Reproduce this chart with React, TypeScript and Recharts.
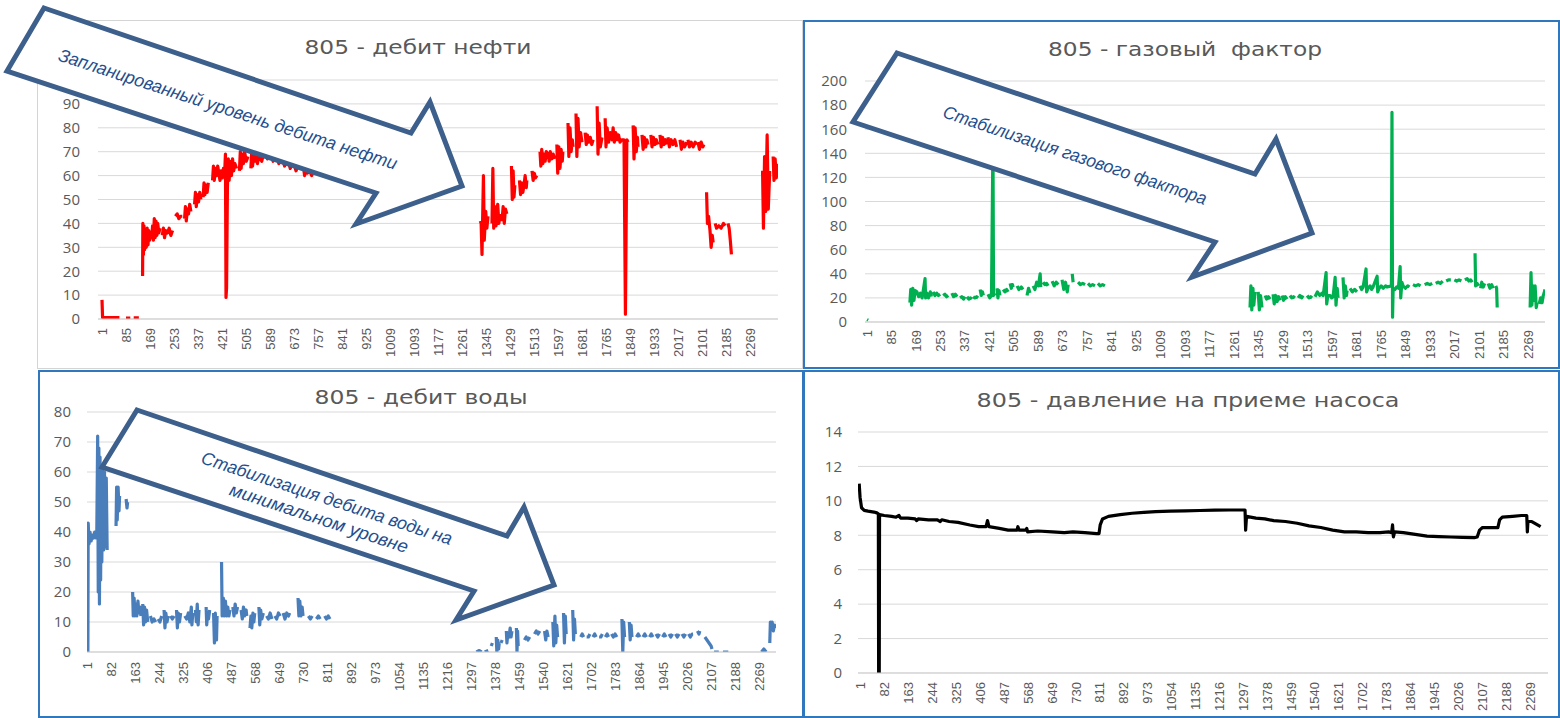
import React from "react";
import { LineChart, Line, XAxis, YAxis, CartesianGrid } from "recharts";

type P = [number, number | null];

// ---------- tick labels ----------
const ticksTop = [1, 85, 169, 253, 337, 421, 505, 589, 673, 757, 841, 925, 1009, 1093, 1177, 1261, 1345, 1429, 1513, 1597, 1681, 1765, 1849, 1933, 2017, 2101, 2185, 2269];
const ticksBottom = [1, 82, 163, 244, 325, 406, 487, 568, 649, 730, 811, 892, 973, 1054, 1135, 1216, 1297, 1378, 1459, 1540, 1621, 1702, 1783, 1864, 1945, 2026, 2107, 2188, 2269];
const oilTicks = [0, 10, 20, 30, 40, 50, 60, 70, 80, 90, 100];
const gasTicks = [0, 20, 40, 60, 80, 100, 120, 140, 160, 180, 200];
const waterTicks = [0, 10, 20, 30, 40, 50, 60, 70, 80];
const pressTicks = [0, 2, 4, 6, 8, 10, 12, 14];

// ---------- titles / annotations ----------
const titleOil = "805 - дебит нефти";
const titleGas = "805 - газовый  фактор";
const titleWater = "805 - дебит воды";
const titlePress = "805 - давление на приеме насоса";
const noteOil = "Запланированный уровень дебита нефти";
const noteGas = "Стабилизация газового фактора";
const noteWater1 = "Стабилизация дебита воды на";
const noteWater2 = "минимальном уровне";

// ---------- series: [day, value] ----------
const oilRate: P[] = [
  [1, 8], [3, 0.6], [62, 0.6], [63, null], [85, 0.4], [100, 0.4], [101, null], [112, 0.5], [130, 0.5], [131, null],
  [143, 18], [144, 40], [146, 27], [148, 39], [150, 29], [153, 37], [156, 30], [159, 38], [162, 31], [165, 37], [168, 33], [171, 36],
  [175, 34], [178, 39], [181, 33], [184, 42], [187, 34], [190, 41], [193, 35], [196, 40], [200, 36], [204, 38], [205, null],
  [212, 35], [216, 38], [220, 34], [224, 37], [230, 36], [236, 38], [242, 35], [248, 37], [249, null],
  [258, 43], [264, 44], [270, 42], [276, 43], [282, 43], [283, null],
  [290, 42], [293, 47], [296, 41], [300, 46], [304, 44], [308, 48], [312, 45], [313, null],
  [325, 48], [328, 53], [331, 47], [335, 52], [339, 49], [343, 53], [347, 50], [348, null],
  [355, 51], [358, 57], [361, 52], [365, 56], [369, 53], [373, 57], [374, null],
  [388, 58], [391, 64], [394, 58], [398, 63], [402, 60], [406, 64], [410, 61], [414, 58], [418, 62], [422, 59], [426, 63], [430, 60],
  [433, 69], [435, 9], [437, 13], [440, 55], [443, 67], [446, 58], [450, 66], [454, 60], [458, 67], [462, 62], [466, 65], [472, 63], [473, null],
  [482, 62], [485, 70], [488, 63], [492, 69], [496, 65], [500, 70], [506, 66], [512, 68], [513, null],
  [522, 63], [525, 70], [528, 64], [532, 69], [536, 66], [540, 70], [545, 65], [550, 68],
  [560, 66], [570, 71], [580, 67], [590, 70], [600, 66], [610, 69], [620, 65], [630, 68], [640, 64], [650, 67], [660, 63], [670, 66],
  [680, 62], [690, 65], [700, 63], [705, 65], [710, 60], [715, 64], [720, 61], [728, 62], [735, 60], [742, 63], [750, 61], [758, 62], [765, 61], [766, null],
  [1325, 41], [1328, 40], [1331, 27], [1336, 60], [1339, 33], [1344, 45], [1348, 38], [1352, 43], [1353, null],
  [1366, 40], [1369, 63], [1372, 38], [1376, 47], [1380, 39], [1386, 48], [1390, 40], [1394, 44], [1395, null],
  [1401, 41], [1405, 47], [1409, 40], [1413, 46], [1418, 44], [1419, null],
  [1434, 64], [1437, 50], [1440, 62], [1443, 51], [1446, 56], [1447, null],
  [1462, 58], [1466, 52], [1470, 57], [1474, 53], [1478, 56], [1482, 60], [1486, 55], [1488, 58], [1489, null],
  [1506, 62], [1510, 58], [1514, 61], [1518, 59], [1523, 60], [1524, null],
  [1534, 70], [1537, 64], [1540, 71], [1544, 65], [1548, 69], [1552, 66], [1556, 70], [1558, 67], [1559, null],
  [1562, 70], [1566, 66], [1570, 70], [1575, 67], [1580, 69], [1586, 67], [1587, null],
  [1593, 73], [1596, 61], [1600, 72], [1604, 63], [1608, 71], [1612, 66], [1614, 70], [1615, null],
  [1632, 82], [1635, 68], [1639, 80], [1643, 70], [1647, 75], [1650, 72], [1651, null],
  [1660, 86], [1663, 68], [1667, 84], [1671, 72], [1676, 78], [1681, 74], [1682, null],
  [1692, 78], [1696, 73], [1700, 77], [1705, 74], [1710, 76], [1715, 73], [1720, 75], [1721, null],
  [1734, 89], [1737, 69], [1741, 82], [1745, 72], [1751, 76], [1752, null],
  [1762, 84], [1765, 72], [1769, 80], [1774, 74], [1780, 78], [1786, 75],
  [1790, 80], [1794, 74], [1799, 78], [1804, 75], [1809, 77], [1814, 74], [1820, 75], [1828, 75], [1833, 2], [1838, 75], [1842, 74], [1843, null],
  [1860, 81], [1863, 67], [1867, 80], [1871, 70], [1875, 76], [1877, 72], [1878, null],
  [1891, 77], [1895, 71], [1899, 76], [1904, 72], [1908, 75], [1912, 73], [1913, null],
  [1922, 77], [1926, 72], [1931, 76], [1936, 73], [1941, 75], [1947, 73], [1948, null],
  [1954, 77], [1958, 72], [1963, 76], [1968, 73], [1973, 75], [1978, 73], [1979, null],
  [1982, 76], [1987, 72], [1993, 75], [1999, 73], [2006, 75], [2012, 72], [2013, null],
  [2024, 75], [2029, 71], [2034, 74], [2040, 72], [2048, 74], [2049, null],
  [2052, 75], [2057, 72], [2063, 74], [2070, 72], [2077, 74], [2083, 73], [2084, null],
  [2087, 74], [2092, 71], [2098, 74], [2104, 72], [2108, 73], [2109, null],
  [2117, 53], [2120, 40], [2124, 43], [2129, 37], [2133, 30], [2137, 35], [2140, 32], [2141, null],
  [2147, 40], [2152, 38], [2160, 39], [2168, 38], [2176, 40], [2182, 39], [2183, null],
  [2192, 40], [2196, 38], [2200, 33], [2204, 27], [2205, null],
  [2313, 62], [2316, 38], [2320, 68], [2324, 45], [2329, 77], [2333, 46], [2338, 62], [2342, null],
  [2350, 68], [2353, 58], [2357, 67], [2361, 59], [2364, 65],
];

const gasFactor: P[] = [
  [1, 2], [5, 1.5], [6, null],
  [148, 16], [151, 27], [154, 14], [158, 28], [162, 18], [166, 26], [172, 25], [178, 21], [184, 24], [190, 20],
  [200, 36], [202, 20], [206, 24], [212, 20], [218, 25], [222, 21], [223, null],
  [228, 25], [234, 22], [240, 24], [246, 22], [252, 23], [253, null],
  [262, 22], [268, 23], [274, 21], [280, 22], [281, null],
  [292, 24], [298, 21], [304, 23], [310, 21], [311, null],
  [320, 20], [326, 21], [332, 19], [337, 21], [338, null],
  [344, 21], [350, 19], [356, 20], [361, 19], [362, null],
  [365, 21], [371, 20], [377, 21], [382, 20], [383, null],
  [389, 27], [393, 22], [397, 25], [400, 22], [401, null],
  [416, 23], [422, 20], [428, 22], [433, 150], [435, 22], [440, 24], [442, null],
  [447, 28], [450, 20], [454, 26], [457, 22], [458, null],
  [468, 27], [474, 25], [480, 27], [485, 25], [486, null],
  [492, 32], [496, 28], [500, 31], [502, 29], [503, null],
  [516, 30], [522, 27], [530, 29], [536, 27], [537, null],
  [550, 22], [555, 28], [560, 24], [561, null],
  [571, 30], [577, 27], [583, 33], [589, 30], [595, 40], [597, 29], [598, null],
  [605, 33], [611, 31], [617, 32], [622, 30], [623, null],
  [636, 34], [643, 30], [650, 33], [657, 31], [658, null],
  [670, 35], [676, 27], [682, 33], [688, 25], [691, 31], [692, null],
  [705, 40], [708, 33], [709, null],
  [725, 33], [733, 31], [741, 32], [749, 31], [750, null],
  [759, 32], [767, 30], [775, 31], [783, 30], [784, null],
  [793, 32], [801, 30], [809, 31], [817, 30], [818, null],
  [1315, 12], [1318, 30], [1321, 10], [1325, 28], [1328, 14], [1332, 25], [1333, null],
  [1343, 25], [1347, 10], [1351, 22], [1356, 12], [1357, null],
  [1367, 22], [1372, 19], [1378, 21], [1384, 19], [1385, null],
  [1394, 23], [1398, 15], [1403, 22], [1408, 17], [1413, 21], [1418, 18], [1419, null],
  [1425, 22], [1430, 18], [1436, 21], [1442, 19], [1443, null],
  [1452, 22], [1458, 20], [1464, 21], [1469, 20], [1470, null],
  [1480, 20], [1486, 22], [1492, 20], [1497, 22], [1498, null],
  [1511, 22], [1517, 20], [1523, 21], [1528, 20], [1529, null],
  [1538, 21], [1546, 25], [1554, 22], [1562, 24], [1566, 22],
  [1576, 41], [1578, 15], [1582, 22], [1590, 22], [1595, 20], [1600, 21],
  [1607, 37], [1610, 14], [1614, 28], [1617, 20], [1618, null],
  [1634, 37], [1638, 20], [1642, 30], [1646, 22], [1648, 26], [1649, null],
  [1658, 28], [1666, 25], [1674, 27], [1682, 25], [1683, null],
  [1692, 30], [1698, 27], [1703, 29], [1713, 44], [1715, 25], [1720, 28], [1727, 30], [1732, 27], [1737, 29],
  [1751, 38], [1753, 25], [1758, 28], [1765, 30], [1772, 28], [1780, 30], [1785, 29],
  [1800, 30], [1802, 174], [1804, 4], [1806, 28], [1812, 27], [1818, 29], [1824, 28],
  [1830, 46], [1832, 20], [1836, 33], [1840, 30], [1848, 28], [1856, 30], [1862, 29], [1863, null],
  [1874, 31], [1883, 30], [1892, 31], [1900, 30], [1901, null],
  [1914, 31], [1923, 32], [1932, 31], [1940, 32], [1941, null],
  [1952, 32], [1960, 33], [1968, 32], [1976, 34], [1977, null],
  [1988, 34], [1996, 35], [2004, 35], [2005, null],
  [2016, 35], [2024, 34], [2032, 35], [2040, 34], [2041, null],
  [2052, 35], [2060, 36], [2066, 34], [2072, 35], [2077, 33], [2078, null],
  [2087, 57], [2089, 30], [2094, 32], [2099, 30], [2100, null],
  [2106, 28], [2110, 33], [2115, 29], [2120, 32], [2121, null],
  [2132, 32], [2138, 28], [2144, 31], [2149, 28], [2150, null],
  [2158, 30], [2161, 28], [2163, 12], [2164, null],
  [2276, 12], [2279, 41], [2282, 14], [2286, 30], [2290, 18], [2293, 30], [2297, 12], [2300, 16], [2301, null],
  [2307, 15], [2312, 20], [2317, 16], [2321, 22], [2324, 24], [2327, 27],
];

const waterRate: P[] = [
  [1, 0], [2, 43], [5, 36], [8, 40], [12, 37], [16, 39], [20, 38], [24, 40], [28, 38], [31, 39],
  [34, 72], [36, 20], [38, 68], [40, 16], [42, 65], [44, 24], [46, 60], [48, 30], [51, 62], [54, 34], [57, 60], [60, 35], [63, 58], [66, 34], [67, null],
  [96, 42], [98, 55], [100, 44], [103, 55], [106, 47], [108, 52], [109, null],
  [130, 51], [133, 48], [135, 50], [136, null],
  [152, 20], [154, 12], [157, 18], [160, 12], [163, 16], [166, 12], [170, 17], [173, 13], [177, 15], [180, 12], [181, null],
  [186, 16], [189, 9], [192, 15], [196, 10], [199, 14], [203, 10], [204, null],
  [212, 12], [218, 10], [224, 11], [230, 10], [231, null],
  [238, 11], [244, 10], [250, 12], [251, null],
  [258, 14], [261, 8], [264, 13], [268, 10], [272, 12], [273, null],
  [280, 12], [286, 11], [292, 12], [293, null],
  [300, 14], [303, 8], [306, 13], [310, 10], [314, 13], [315, null],
  [328, 12], [334, 11], [340, 13], [345, 10], [350, 15], [352, 9], [355, 13], [356, null],
  [364, 14], [367, 10], [370, 16], [373, 9], [376, 14], [377, null],
  [400, 15], [402, 9], [405, 13], [408, 11], [412, 14], [413, null],
  [425, 13], [428, 3], [431, 13], [435, 4], [437, 12], [438, null],
  [452, 30], [454, 12], [458, 18], [461, 12], [465, 17], [469, 12], [473, 15], [477, 12], [480, 14], [481, null],
  [490, 15], [494, 12], [498, 16], [502, 13], [506, 15], [507, null],
  [518, 14], [522, 11], [526, 15], [530, 12], [535, 14], [537, 12], [538, null],
  [548, 8], [551, 12], [554, 8], [558, 13], [561, 10], [564, 13], [565, null],
  [578, 15], [581, 9], [584, 14], [588, 11], [593, 13], [594, null],
  [604, 12], [610, 11], [616, 13], [622, 11], [623, null],
  [632, 12], [638, 11], [644, 13], [650, 12], [651, null],
  [660, 13], [666, 11], [672, 13], [678, 12], [682, 13], [683, null],
  [710, 18], [713, 12], [716, 17], [720, 12], [724, 15], [727, 12], [728, null],
  [745, 12], [752, 11], [758, 12], [759, null],
  [772, 11], [779, 12], [785, 11], [786, null],
  [800, 12], [806, 11], [812, 12], [818, 11], [819, null],
  [1312, 0], [1322, 0.5], [1330, 0], [1331, null], [1340, 0], [1352, 0.5], [1353, null],
  [1362, 2], [1366, 3], [1367, null],
  [1379, 5], [1381, 0], [1384, 4], [1387, 1], [1389, 3], [1390, null],
  [1395, 3], [1399, 4], [1400, null],
  [1413, 7], [1415, 3], [1418, 6], [1422, 5], [1426, 8], [1429, 5], [1432, 7], [1433, null],
  [1447, 8], [1449, 0], [1451, 7], [1453, 2], [1454, null],
  [1474, 4], [1480, 5], [1486, 4], [1492, 5], [1493, null],
  [1508, 6], [1514, 7], [1520, 6], [1526, 7], [1527, null],
  [1542, 7], [1546, 4], [1550, 7], [1554, 5], [1555, null],
  [1570, 10], [1573, 2], [1577, 12], [1580, 3], [1583, 9], [1586, 5], [1587, null],
  [1606, 13], [1609, 3], [1612, 12], [1615, 6], [1616, null],
  [1637, 14], [1640, 4], [1643, 11], [1646, 6], [1647, null],
  [1664, 5], [1669, 6], [1674, 5], [1675, null],
  [1684, 5], [1690, 5], [1695, 6], [1696, null],
  [1705, 5], [1711, 6], [1716, 5], [1717, null],
  [1726, 5], [1732, 5], [1737, 6], [1738, null],
  [1747, 5], [1753, 6], [1758, 5], [1759, null],
  [1768, 6], [1774, 5], [1780, 6], [1786, 5], [1787, null],
  [1803, 11], [1806, 0], [1809, 10], [1812, 5], [1813, null],
  [1828, 10], [1831, 4], [1834, 9], [1837, 5], [1838, null],
  [1852, 5], [1858, 6], [1864, 5], [1865, null],
  [1874, 5], [1880, 6], [1886, 5], [1887, null],
  [1896, 5], [1902, 6], [1908, 5], [1909, null],
  [1918, 6], [1924, 5], [1930, 6], [1931, null],
  [1940, 5], [1946, 6], [1952, 5], [1953, null],
  [1962, 6], [1968, 5], [1974, 6], [1975, null],
  [1984, 6], [1990, 5], [1996, 6], [1997, null],
  [2006, 6], [2012, 5], [2018, 6], [2019, null],
  [2028, 6], [2034, 5], [2040, 6], [2043, 6], [2044, null],
  [2058, 7], [2063, 6], [2066, 7], [2067, null],
  [2083, 5], [2090, 4], [2097, 3], [2104, 2], [2107, 1], [2108, null],
  [2114, 0], [2124, 0], [2130, 0], [2131, null], [2144, 0], [2154, 0], [2162, 0], [2163, null],
  [2274, 0], [2282, 1], [2290, 0], [2291, null],
  [2302, 3], [2304, 10], [2307, 8], [2310, 10], [2314, 7], [2318, 9], [2322, 8],
];

const pumpPressure: P[] = [
  [-5, 11], [-2, 10.2], [3, 9.6], [12, 9.45], [25, 9.4], [45, 9.35], [55, 9.3], [60, 9.25], [61, 0], [63, 0], [64, 9.2], [80, 9.15],
  [105, 9.1], [120, 9.05], [130, 9.15], [135, 9.0], [160, 9.0], [185, 8.95], [190, 8.85], [195, 8.95], [230, 8.9], [260, 8.9],
  [270, 8.8], [275, 8.9], [300, 8.8], [330, 8.75], [370, 8.6], [400, 8.5], [425, 8.5], [430, 8.85], [435, 8.5],
  [470, 8.4], [500, 8.3], [530, 8.3], [533, 8.5], [537, 8.3], [560, 8.3], [563, 8.4], [566, 8.2], [600, 8.25],
  [650, 8.2], [690, 8.15], [720, 8.2], [760, 8.15], [800, 8.1], [808, 8.1], [812, 8.6], [820, 8.95], [840, 9.1],
  [880, 9.2], [920, 9.28], [960, 9.33], [1000, 9.38], [1050, 9.4], [1100, 9.42], [1150, 9.44], [1200, 9.46],
  [1250, 9.47], [1300, 9.47], [1303, 9.47], [1305, 8.3], [1308, 9.1], [1340, 9.0], [1370, 8.95], [1400, 8.85],
  [1440, 8.8], [1480, 8.7], [1520, 8.55], [1560, 8.45], [1600, 8.3], [1640, 8.2], [1680, 8.2], [1720, 8.15],
  [1760, 8.15], [1790, 8.2], [1800, 8.15], [1803, 8.6], [1806, 7.9], [1810, 8.2], [1840, 8.15], [1880, 8.05],
  [1920, 7.95], [1960, 7.92], [2000, 7.9], [2040, 7.88], [2080, 7.86], [2090, 7.9], [2098, 8.3], [2108, 8.45],
  [2140, 8.45], [2160, 8.45], [2166, 8.9], [2175, 9.05], [2210, 9.1], [2240, 9.15], [2258, 9.15], [2260, 8.2],
  [2262, 8.8], [2275, 8.8], [2290, 8.65], [2305, 8.5],
];

const toRows = (pts: P[]) => pts.map(([d, v]) => ({ d, v }));

const FONT = "'Open Sans', 'DejaVu Sans', Arial, sans-serif";
const TICKFONT = "'Liberation Sans', Arial, sans-serif";
const GREY = "#595959";

const makeTick = (offset: number) => (props: any) => {
  const { x, y, payload } = props;
  const yy = y + offset;
  return (
    <text x={x} y={yy} transform={`rotate(-90 ${x} ${yy})`} textAnchor="end" dominantBaseline="central"
      fontSize={13} fill={GREY} fontFamily={TICKFONT}>{payload.value}</text>
  );
};

type PanelProps = {
  left: number; top: number; width: number; height: number;
  margin: { top: number; right: number; bottom: number; left: number };
  yWidth: number; xHeight: number; xDomain: [number, number]; yDomain: [number, number];
  xTicks: number[]; yTicks: number[]; yTickMargin: number; xOffset: number;
  data: P[]; color: string; border: string; borderWidth: number;
};

function Panel(p: PanelProps) {
  return (
    <div style={{ position: "absolute", left: p.left, top: p.top, width: p.width, height: p.height, boxSizing: "border-box", border: `${p.borderWidth}px solid ${p.border}`, background: "#fff" }}>
      <div style={{ position: "absolute", left: -p.borderWidth, top: -p.borderWidth }}>
        <LineChart width={p.width} height={p.height} data={toRows(p.data)} margin={p.margin}>
          <CartesianGrid vertical={false} stroke="#d9d9d9" strokeWidth={1} />
          <XAxis dataKey="d" type="number" domain={p.xDomain} ticks={p.xTicks} allowDataOverflow interval={0}
            height={p.xHeight} tickSize={0} tickMargin={0} tickLine={false} axisLine={{ stroke: "#cfcfcf" }}
            tick={makeTick(p.xOffset)} />
          <YAxis type="number" domain={p.yDomain} ticks={p.yTicks} allowDataOverflow interval={0} width={p.yWidth}
            tickSize={0} tickMargin={p.yTickMargin} tickLine={false} axisLine={false}
            tick={{ fontSize: 15, fill: GREY, fontFamily: FONT }} />
          <Line dataKey="v" type="linear" stroke={p.color} strokeWidth={3.2} dot={false} connectNulls={false}
            isAnimationActive={false} strokeLinejoin="round" strokeLinecap="butt" />
        </LineChart>
      </div>
    </div>
  );
}

function Arrow({ pts }: { pts: number[][] }) {
  return (
    <polygon points={pts.map((q) => q.join(",")).join(" ")} fill="#fff" stroke="#3c5f8c" strokeWidth={5} strokeLinejoin="miter" />
  );
}

function Note({ x, y, angle, text, len }: { x: number; y: number; angle: number; text: string; len: number }) {
  return (
    <text x={x} y={y} transform={`rotate(${angle} ${x} ${y})`} textAnchor="middle" fontSize={18} fontStyle="italic"
      fill="#1f4f8f" fontFamily="'Liberation Sans', Arial, sans-serif" textLength={len} lengthAdjust="spacingAndGlyphs">{text}</text>
  );
}

function Title({ x, y, text, len }: { x: number; y: number; text: string; len: number }) {
  return (
    <text x={x} y={y} textAnchor="middle" fontSize={20} fill={GREY} fontFamily="'DejaVu Sans', 'Open Sans', Arial, sans-serif"
      textLength={len} lengthAdjust="spacingAndGlyphs" style={{ whiteSpace: "pre" }}>{text}</text>
  );
}

export default function App() {
  return (
    <div style={{ position: "absolute", left: 0, top: 0, width: 1560, height: 718, overflow: "hidden", background: "#fff" }}>
      <Panel left={37} top={20} width={766} height={349} border="#d4d4d4" borderWidth={1.5}
        margin={{ top: 60, right: 25, bottom: 5, left: 21 }} yWidth={40} xHeight={45}
        xDomain={[-13, 2367]} yDomain={[0, 100]} xTicks={ticksTop} yTicks={oilTicks} yTickMargin={18} xOffset={9}
        data={oilRate} color="#ff0000" />
      <Panel left={803} top={20} width={757} height={349} border="#2f78bd" borderWidth={2}
        margin={{ top: 61, right: 15, bottom: 5, left: 20 }} yWidth={42} xHeight={42}
        xDomain={[-6, 2327]} yDomain={[0, 200]} xTicks={ticksTop} yTicks={gasTicks} yTickMargin={18} xOffset={8}
        data={gasFactor} color="#00b050" />
      <Panel left={38} top={370} width={766} height={348} border="#2f78bd" borderWidth={2}
        margin={{ top: 42, right: 28, bottom: 6, left: 9 }} yWidth={40} xHeight={60}
        xDomain={[-2, 2323]} yDomain={[0, 80]} xTicks={ticksBottom} yTicks={waterTicks} yTickMargin={16} xOffset={10}
        data={waterRate} color="#4a7ebb" />
      <Panel left={803} top={370} width={757} height={348} border="#2f78bd" borderWidth={2}
        margin={{ top: 62, right: 12, bottom: 3, left: 15 }} yWidth={40} xHeight={42}
        xDomain={[-9, 2330]} yDomain={[0, 14]} xTicks={ticksBottom} yTicks={pressTicks} yTickMargin={16} xOffset={9}
        data={pumpPressure} color="#000000" />

      <svg width={1560} height={718} style={{ position: "absolute", left: 0, top: 0, pointerEvents: "none" }}>
        <Title x={418} y={54} text={titleOil} len={227} />
        <Title x={1185} y={56} text={titleGas} len={274} />
        <Title x={421} y={404} text={titleWater} len={213} />
        <Title x={1188} y={407} text={titlePress} len={423} />

        <Arrow pts={[[44, 8], [411, 133], [430, 102], [462, 186], [356, 224], [376, 193], [7, 71]]} />
        <Note x={226} y={115} angle={18} text={noteOil} len={355} />

        <Arrow pts={[[897, 53], [1255, 174], [1276, 139], [1312, 233], [1192, 277], [1215, 242], [853, 122]]} />
        <Note x={1073} y={161} angle={18.5} text={noteGas} len={277} />

        <Arrow pts={[[137, 410], [507, 536], [524, 507], [554, 585], [456, 620], [474, 591], [102, 467]]} />
        <Note x={325} y={504} angle={18.2} text={noteWater1} len={263} />
        <Note x={317} y={524} angle={18.2} text={noteWater2} len={187} />
      </svg>
    </div>
  );
}
